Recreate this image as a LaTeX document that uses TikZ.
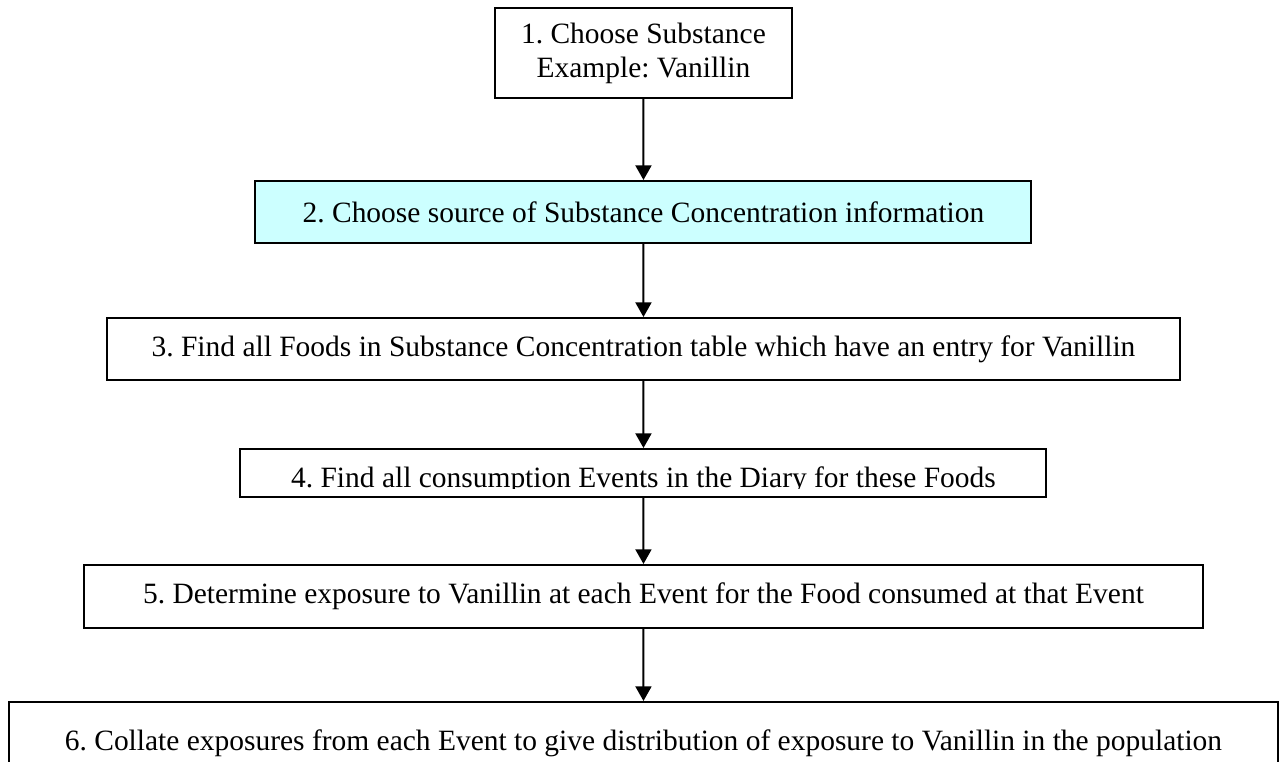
\documentclass[tikz,border=0pt]{standalone}
\usepackage{fontspec}
\setmainfont{Liberation Serif}
\usetikzlibrary{trees}
\usetikzlibrary{arrows.meta}
\usetikzlibrary{calc}
\definecolor{palecyan}{HTML}{CCFFFF}
\newcommand{\stepfont}{\fontsize{22.1}{25.5}\selectfont}
\frenchspacing
\tikzset{
    stepbox/.style={draw, line width=1.5pt, inner sep=0pt, align=center, text centered, font=\stepfont},
    sourcebox/.style={stepbox, fill=palecyan}
}

\begin{document}
\begin{tikzpicture}[
  level 1/.style={level distance=119.25pt},
  level 2/.style={level distance=102.75pt},
  level 3/.style={level distance=93pt},
  level 4/.style={level distance=92.6pt},
  level 5/.style={level distance=110.25pt},
  edge from parent/.style={draw, line width=1.5pt, -{Triangle[width=12pt,length=11pt]}}]

\useasboundingbox (0,0) rectangle (961.5pt,-570.75pt);

\node[stepbox, minimum width=222.75pt, minimum height=67.5pt] (s1) at (482.6pt,-39.75pt) {1. Choose Substance\\Example: Vanillin}
    child {node[sourcebox, minimum width=582pt, minimum height=46.5pt] (s2) {2. Choose source of Substance Concentration information}
        child {node[stepbox, minimum width=804.75pt, minimum height=46.5pt] (s3) {3. Find all Foods in Substance Concentration table which have an entry for Vanillin}
            child {node[stepbox, minimum width=604.5pt, minimum height=36pt] (s4) {}
                child {node[stepbox, minimum width=839.25pt, minimum height=47.25pt] (s5) {5. Determine exposure to Vanillin at each Event for the Food consumed at that Event}
                    child {node[stepbox, minimum width=951.75pt, minimum height=62.25pt] (s6) {6. Collate exposures from each Event to give distribution of exposure to Vanillin in the population}}
                }
            }
        }
    };

% text of step 4 is cut off at the bottom
\begin{scope}
    \clip (s4.north west) rectangle ([yshift=7.5pt]s4.south east);
    \node[font=\stepfont, anchor=base] (t4) at ([yshift=8.25pt]s4.south) {4. Find all consumption Events in the Diary for these Foods};
\end{scope}

\end{tikzpicture}
\end{document}
